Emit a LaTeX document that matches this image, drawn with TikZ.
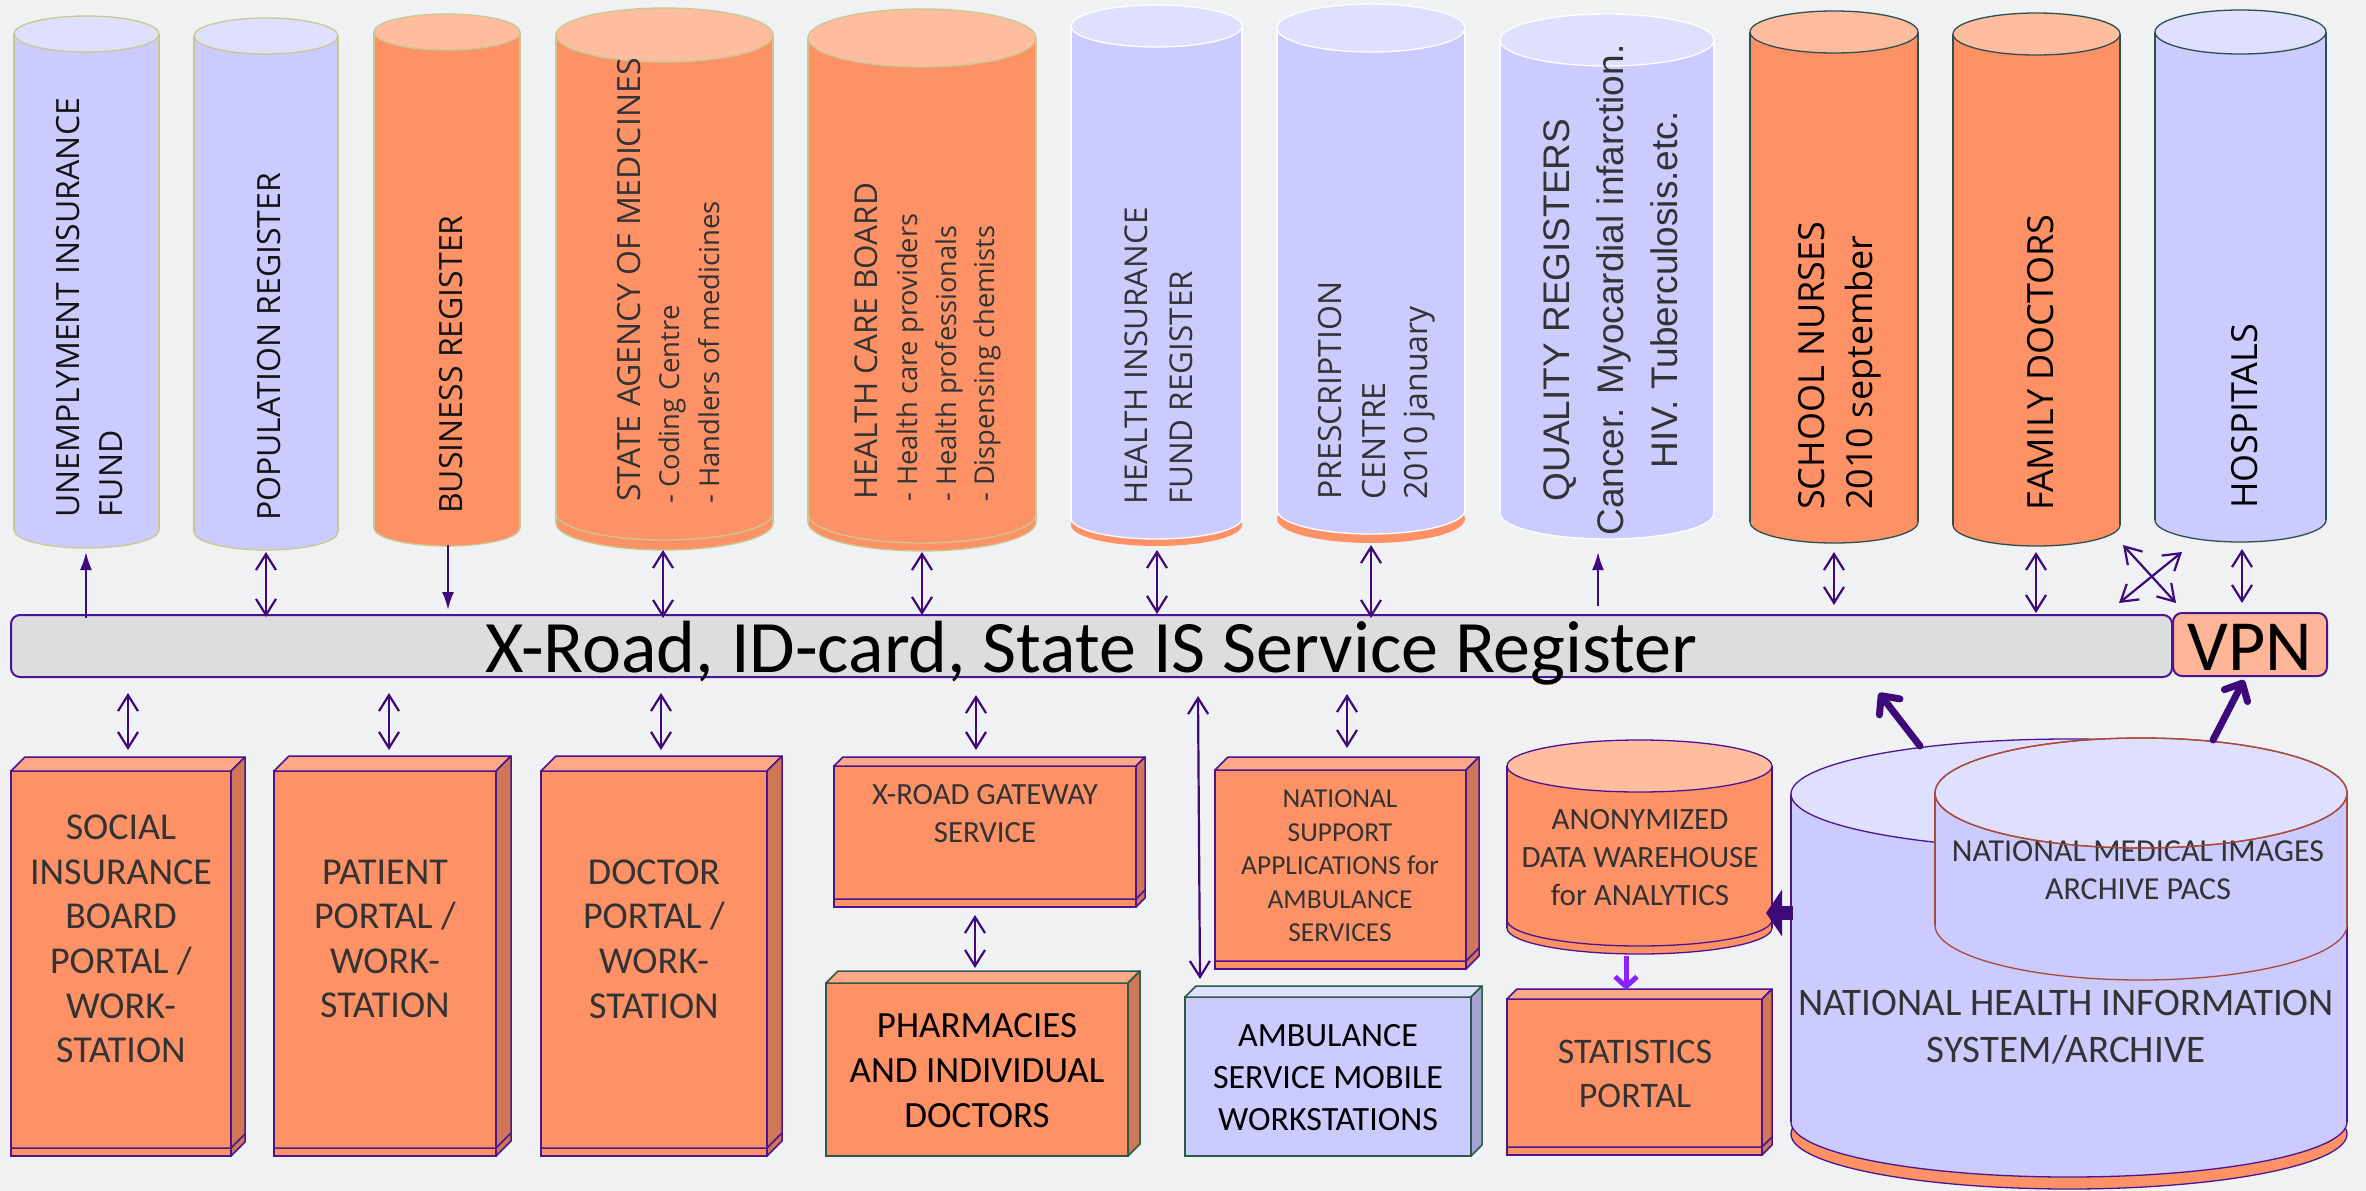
\documentclass[tikz,border=0pt]{standalone}
\usepackage{fontspec}
\setmainfont{Carlito}
\newfontfamily\osans{Open Sans}
\newfontfamily\lsans{Liberation Sans}
\usetikzlibrary{arrows.meta}
\definecolor{bgc}{HTML}{F0F1F3}
\definecolor{lavbody}{HTML}{CBCBFF}
\definecolor{lavtop}{HTML}{DFDFFF}
\definecolor{lavside}{HTML}{A3A2D3}
\definecolor{orgbody}{HTML}{FF9166}
\definecolor{orgtop}{HTML}{FFBDA0}
\definecolor{orgboxtop}{HTML}{FFA887}
\definecolor{orgside}{HTML}{CF7756}
\definecolor{khaki}{HTML}{C9C98F}
\definecolor{slate}{HTML}{2F4F4F}
\definecolor{purp}{HTML}{4A1590}
\definecolor{greenl}{HTML}{2C5A48}
\definecolor{pacsline}{HTML}{A8493A}
\definecolor{bargray}{HTML}{DCDDDF}
\definecolor{vpnfill}{HTML}{FFB597}
\definecolor{txtg}{HTML}{333333}
\definecolor{txtk}{HTML}{141414}
\definecolor{arrowc}{RGB}{62,10,122}
\definecolor{statc}{RGB}{136,34,255}

% cylinder: L R Ttop ry Bbottom body top line
\newcommand{\mycyl}[8]{%
  \filldraw[fill=#6,draw=#8,line width=1.3] ({(#1+#2)/2},#5) ellipse ({(#2-#1)/2} and #4);
  \fill[#6] (#1,#3) rectangle (#2,#5);
  \draw[#8,line width=1.3] (#1,#3) -- (#1,#5) (#2,#3) -- (#2,#5);
  \filldraw[fill=#7,draw=#8,line width=1.3] ({(#1+#2)/2},#3) ellipse ({(#2-#1)/2} and #4);
}
% rim: L R B ry line
\newcommand{\myrim}[5]{%
  \begin{scope}
    \clip (#1-3,#3) rectangle (#2+3,#3+#4+3);
    \draw[#5,line width=1.3] ({(#1+#2)/2},#3) ellipse ({(#2-#1)/2} and #4);
  \end{scope}
}
% 3D box: x1 y1 x2 y2 d front top side line
\newcommand{\mybox}[9]{%
  \filldraw[fill=#6,draw=#9,line width=1.5] (#1,#2) rectangle (#3,#4);
  \filldraw[fill=#7,draw=#9,line width=1.5,line join=round] (#1,#2) -- (#1+#5,#2-#5) -- (#3+#5,#2-#5) -- (#3,#2) -- cycle;
  \filldraw[fill=#8,draw=#9,line width=1.5,line join=round] (#3,#2) -- (#3+#5,#2-#5) -- (#3+#5,#4-#5) -- (#3,#4) -- cycle;
}
% strip: x1 x2 y2 d line
\newcommand{\mystrip}[5]{%
  \draw[#5,line width=1.5] (#1,#3-8) -- (#2,#3-8) -- (#2+#4,#3-8-#4);
}

\tikzset{
  vtext/.style={rotate=90,anchor=base west,inner sep=0pt},
  vctext/.style={rotate=90,anchor=base,inner sep=0pt},
  btext/.style={align=center,inner sep=0pt},
  dbl/.style={draw=arrowc,line width=2.2,{Straight Barb[length=16pt,width=20pt]}-{Straight Barb[length=16pt,width=20pt]}},
  sgl/.style={draw=arrowc,line width=2.2,-{Latex[length=18pt,width=12pt]}},
  thk/.style={draw=arrowc,line width=7,line cap=round,-{Straight Barb[length=14pt,width=26pt,round]}},
}

\begin{document}
\begin{tikzpicture}[x=1pt,y=-1pt]
\useasboundingbox (0,0) rectangle (2366,1191);
\fill[bgc] (0,0) rectangle (2366,1191);

% ---------- top cylinders ----------
\mycyl{14}{159}{34}{18}{530}{lavbody}{lavtop}{khaki}
\mycyl{194}{338}{36}{18}{532}{lavbody}{lavtop}{khaki}
\mycyl{374}{520}{32}{18}{528}{orgbody}{orgtop}{khaki}
\mycyl{556}{773}{35}{27}{523}{orgbody}{orgtop}{khaki}
\myrim{556}{773}{513}{27}{khaki}
\mycyl{808}{1036}{38}{29}{522}{orgbody}{orgtop}{khaki}
\myrim{808}{1036}{514}{29}{khaki}
\fill[orgbody] (1156.5,525) ellipse (85.5 and 21);
\mycyl{1071}{1242}{26}{21}{518}{lavbody}{lavtop}{white}
\fill[orgbody] (1371,519) ellipse (94 and 24);
\mycyl{1277}{1465}{28}{24}{510}{lavbody}{lavtop}{white}
\mycyl{1500}{1714}{40}{26}{513}{lavbody}{lavtop}{white}
\mycyl{1750}{1918}{32}{21}{522}{orgbody}{orgtop}{slate}
\mycyl{1953}{2120}{34}{21}{525}{orgbody}{orgtop}{slate}
\mycyl{2155}{2326}{32}{22}{520}{lavbody}{lavtop}{slate}

% ---------- cylinder texts ----------
\begin{scope}[every node/.append style={text=txtk}]
\node[vtext,font={\osans\fontsize{32}{38}\selectfont}] (t1a) at (79,518) {UNEMPLYMENT INSURANCE};
\node[vtext,font={\osans\fontsize{32}{38}\selectfont}] (t1b) at (122,518) {FUND};
\node[vtext,font={\osans\fontsize{32}{38}\selectfont}] (t2) at (280,521) {POPULATION REGISTER};
\node[vtext,font={\osans\fontsize{32}{38}\selectfont}] (t3) at (462,514) {BUSINESS REGISTER};
\end{scope}
\begin{scope}[every node/.append style={text=txtg}]
\node[vtext,font={\osans\fontsize{32}{38}\selectfont}] (t4a) at (640,502) {STATE AGENCY OF MEDICINES};
\node[vtext,font={\osans\fontsize{27.5}{33}\selectfont}] (t4b) at (679,504) {- Coding Centre};
\node[vtext,font={\osans\fontsize{27.5}{33}\selectfont}] (t4c) at (719,504) {- Handlers of medicines};
\node[vtext,font={\osans\fontsize{31.5}{38}\selectfont}] (t5a) at (877,500) {HEALTH CARE BOARD};
\node[vtext,font={\osans\fontsize{27.3}{33}\selectfont}] (t5b) at (917,502) {- Health care providers};
\node[vtext,font={\osans\fontsize{27.3}{33}\selectfont}] (t5c) at (956,502) {- Health professionals};
\node[vtext,font={\osans\fontsize{27.3}{33}\selectfont}] (t5d) at (994,502) {- Dispensing chemists};
\node[vtext,font={\osans\fontsize{31.4}{38}\selectfont}] (t6a) at (1147,505) {HEALTH INSURANCE};
\node[vtext,font={\osans\fontsize{31.4}{38}\selectfont}] (t6b) at (1192,505) {FUND REGISTER};
\node[vtext,font={\osans\fontsize{32}{38}\selectfont}] (t7a) at (1341,500) {PRESCRIPTION};
\node[vtext,font={\osans\fontsize{32}{38}\selectfont}] (t7b) at (1385,500) {CENTRE};
\node[vtext,font={\osans\fontsize{32}{38}\selectfont}] (t7c) at (1427,500) {2010 january};
\node[vctext,font={\lsans\fontsize{37}{44}\selectfont}] (t8a) at (1569,310) {QUALITY REGISTERS};
\node[vctext,font={\lsans\fontsize{37}{44}\selectfont}] (t8b) at (1623,290) {Cancer. Myocardial infarction.};
\node[vctext,font={\lsans\fontsize{37}{44}\selectfont}] (t8c) at (1677,290) {HIV. Tuberculosis.etc.};
\end{scope}
\begin{scope}[every node/.append style={text=black}]
\node[vtext,font={\osans\fontsize{36}{42}\selectfont}] (t9a) at (1824,510) {SCHOOL NURSES};
\node[vtext,font={\osans\fontsize{36}{42}\selectfont}] (t9b) at (1872,510) {2010 september};
\node[vtext,font={\osans\fontsize{36}{42}\selectfont}] (t10) at (2053,511) {FAMILY DOCTORS};
\node[vtext,font={\osans\fontsize{36}{42}\selectfont}] (t11) at (2257,509) {HOSPITALS};
\end{scope}

% ---------- bar and VPN ----------
\node[draw=purp,fill=bargray,line width=2,rounded corners=9pt,minimum width=2161pt,
      inner xsep=0pt,inner ysep=0pt,text height=57pt,text depth=5pt,
      font={\fontsize{74}{80}\selectfont},text=black] (xroad) at (1091.5,646) {X-Road, ID-card, State IS Service Register};
\node[draw=purp,fill=vpnfill,line width=2,rounded corners=9pt,minimum width=154pt,
      inner xsep=0pt,inner ysep=0pt,text height=57pt,text depth=6pt,
      font={\fontsize{72}{80}\selectfont},text=black] (vpn) at (2250,644.5) {VPN};

% ---------- bottom boxes ----------
\mybox{11}{771}{231}{1156}{14}{orgbody}{orgboxtop}{orgside}{purp}
\mystrip{11}{231}{1156}{14}{purp}
\mybox{274}{771}{496}{1156}{15}{orgbody}{orgboxtop}{orgside}{purp}
\mystrip{274}{496}{1156}{15}{purp}
\mybox{541}{771}{767}{1156}{15}{orgbody}{orgboxtop}{orgside}{purp}
\mystrip{541}{767}{1156}{15}{purp}
\mybox{834}{766}{1136}{907}{9}{orgbody}{orgboxtop}{orgside}{purp}
\mystrip{834}{1136}{907}{9}{purp}
\mybox{826}{983}{1128}{1156}{12}{orgbody}{orgboxtop}{orgside}{greenl}
\mybox{1215}{770}{1466}{969}{13}{orgbody}{orgboxtop}{orgside}{purp}
\mystrip{1215}{1466}{969}{13}{purp}
\mybox{1185}{997}{1471}{1156}{11}{lavbody}{lavtop}{lavside}{greenl}
\mybox{1507}{999}{1762}{1155}{10}{orgbody}{orgboxtop}{orgside}{purp}
\mystrip{1507}{1762}{1155}{10}{purp}

% anonymized data warehouse
\mycyl{1507}{1772}{766}{26}{928}{orgbody}{orgtop}{purp}
\myrim{1507}{1772}{920}{26}{purp}

% NHIS and PACS
\filldraw[fill=orgbody,draw=purp,line width=1.3] (2069,1134) ellipse (278 and 55);
\mycyl{1791}{2347}{794}{55}{1122}{lavbody}{lavtop}{purp}
\mycyl{1935}{2347}{793}{55}{925}{lavbody}{lavtop}{pacsline}

% ---------- bottom texts ----------
\node[btext,font={\fontsize{38}{44.6}\selectfont},text=txtg] (s1) at (121,939) {SOCIAL\\INSURANCE\\BOARD\\PORTAL /\\WORK-\\STATION};
\node[btext,font={\fontsize{38}{44.6}\selectfont},text=txtg] (s2) at (385,939) {PATIENT\\PORTAL /\\WORK-\\STATION};
\node[btext,font={\fontsize{38}{44.6}\selectfont},text=txtg] (s3) at (654,939) {DOCTOR\\PORTAL /\\WORK-\\STATION};
\node[btext,font={\fontsize{30.8}{38}\selectfont},text=txtg] (s4) at (985,814) {X-ROAD GATEWAY\\SERVICE};
\node[btext,font={\fontsize{37}{45}\selectfont},text=black] (s5) at (977,1071) {PHARMACIES\\AND INDIVIDUAL\\DOCTORS};
\node[btext,font={\fontsize{27.4}{33.5}\selectfont},text=txtg] (s6) at (1340,866) {NATIONAL\\SUPPORT\\APPLICATIONS for\\AMBULANCE\\SERVICES};
\node[btext,font={\fontsize{34}{42}\selectfont},text=black] (s7) at (1328,1078) {AMBULANCE\\SERVICE MOBILE\\WORKSTATIONS};
\node[btext,font={\fontsize{31}{38}\selectfont},text=txtg] (s8) at (1640,858) {ANONYMIZED\\DATA WAREHOUSE\\for ANALYTICS};
\node[btext,font={\fontsize{36}{44}\selectfont},text=txtg] (s9) at (1635,1074) {STATISTICS\\PORTAL};
\node[btext,font={\fontsize{39}{47}\selectfont},text=txtg] (s10) at (2066,1027) {NATIONAL HEALTH INFORMATION\\SYSTEM/ARCHIVE};
\node[btext,font={\fontsize{32}{38}\selectfont},text=txtg] (s11) at (2138,870) {NATIONAL MEDICAL IMAGES\\ARCHIVE PACS};
\draw[pacsline,line width=1.3] (2141,793) ellipse (206 and 55);

% ---------- arrows top ----------
\draw[sgl] (86,618) -- (86,552);
\draw[dbl] (266,552) -- (266,617);
\draw[sgl] (448,545) -- (448,610);
\draw[dbl] (663,550) -- (663,618);
\draw[dbl] (922,552) -- (922,615);
\draw[dbl] (1157,550) -- (1157,614);
\draw[dbl] (1371,545) -- (1371,618);
\draw[sgl] (1598,606) -- (1598,552);
\draw[dbl] (1834,552) -- (1834,605);
\draw[dbl] (2036,552) -- (2036,613);
\draw[dbl] (2123,545) -- (2176,603);
\draw[dbl] (2182,552) -- (2119,603);
\draw[dbl] (2242,549) -- (2242,603);
% ---------- arrows bottom ----------
\draw[dbl] (128,693) -- (128,750);
\draw[dbl] (389,693) -- (389,750);
\draw[dbl] (661,693) -- (661,750);
\draw[dbl] (976,695) -- (976,750);
\draw[dbl] (975,915) -- (975,968);
\draw[dbl] (1198,696) -- (1200,979);
\draw[dbl] (1347,694) -- (1347,748);
\draw[thk] (1920,746) -- (1879,693);
\draw[thk] (2213,740) -- (2244,680);
\draw[draw=arrowc,line width=14,-{Triangle[length=16pt,width=46pt]}] (1793,913) -- (1766,913);
\draw[draw=statc,line width=5,-{Straight Barb[length=10pt,width=22pt]}] (1626,956) -- (1626,990);
\end{tikzpicture}
\end{document}
